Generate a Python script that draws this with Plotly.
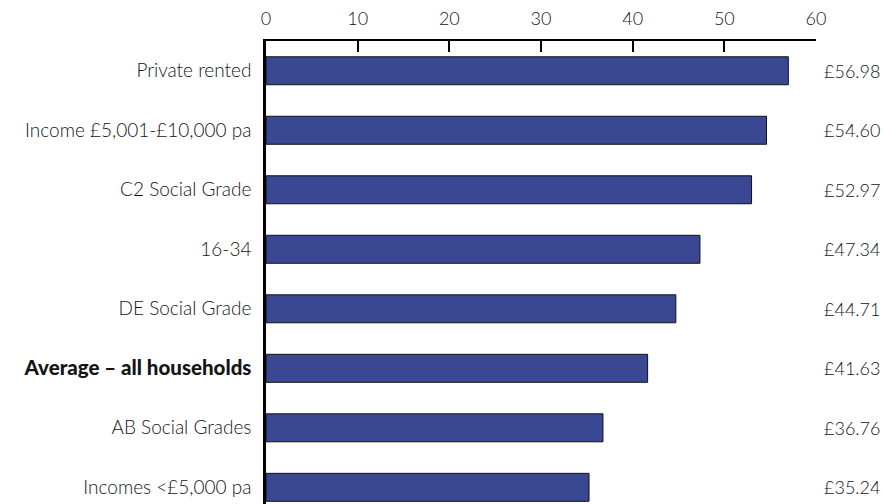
import plotly.graph_objects as go

categories = [
    "Private rented",
    "Income £5,001-£10,000 pa",
    "C2 Social Grade",
    "16-34",
    "DE Social Grade",
    "Average – all households",
    "AB Social Grades",
    "Incomes <£5,000 pa",
]
values = [56.98, 54.60, 52.97, 47.34, 44.71, 41.63, 36.76, 35.24]
value_labels = [f"£{v:.2f}" for v in values]
tick_labels = [
    f'<span style="font-weight:900;font-size:20.5px">{c}</span>' if c.startswith("Average") else c
    for c in categories
]

FONT = "Lato"
TEXT = "#151515"

fig = go.Figure(
    go.Bar(
        x=values,
        y=categories,
        orientation="h",
        width=0.47,
        marker=dict(color="#3a4894", line=dict(color="#111111", width=1)),
        hoverinfo="skip",
    )
)

for cat, lab in zip(categories, value_labels):
    fig.add_annotation(
        x=1.0104, xref="paper", y=cat, yref="y",
        text=lab, showarrow=False, xanchor="left", yanchor="middle",
        font=dict(family=FONT, size=18, color=TEXT, weight=300),
    )

fig.update_layout(
    width=883, height=504,
    margin=dict(l=266, r=67, t=41, b=0),
    paper_bgcolor="white", plot_bgcolor="white",
    showlegend=False,
    font=dict(family=FONT, size=19, color=TEXT, weight=300),
)
fig.update_xaxes(
    side="top", range=[0, 60], tickvals=[0, 10, 20, 30, 40, 50, 60],
    showgrid=False, zeroline=False,
    showline=True, linecolor="black", linewidth=2,
    ticks="inside", ticklen=11, tickwidth=2, tickcolor="black",
    ticklabelstandoff=7,
    tickfont=dict(family=FONT, size=18, color=TEXT, weight=300),
)
fig.update_yaxes(
    range=[7.28, -0.5], tickvals=categories, ticktext=tick_labels,
    showgrid=False, zeroline=False,
    showline=True, linecolor="black", linewidth=2.5,
    ticks="", ticklabelstandoff=8,
    tickfont=dict(family=FONT, size=19, color=TEXT, weight=300),
)

fig.write_html("out.html")
